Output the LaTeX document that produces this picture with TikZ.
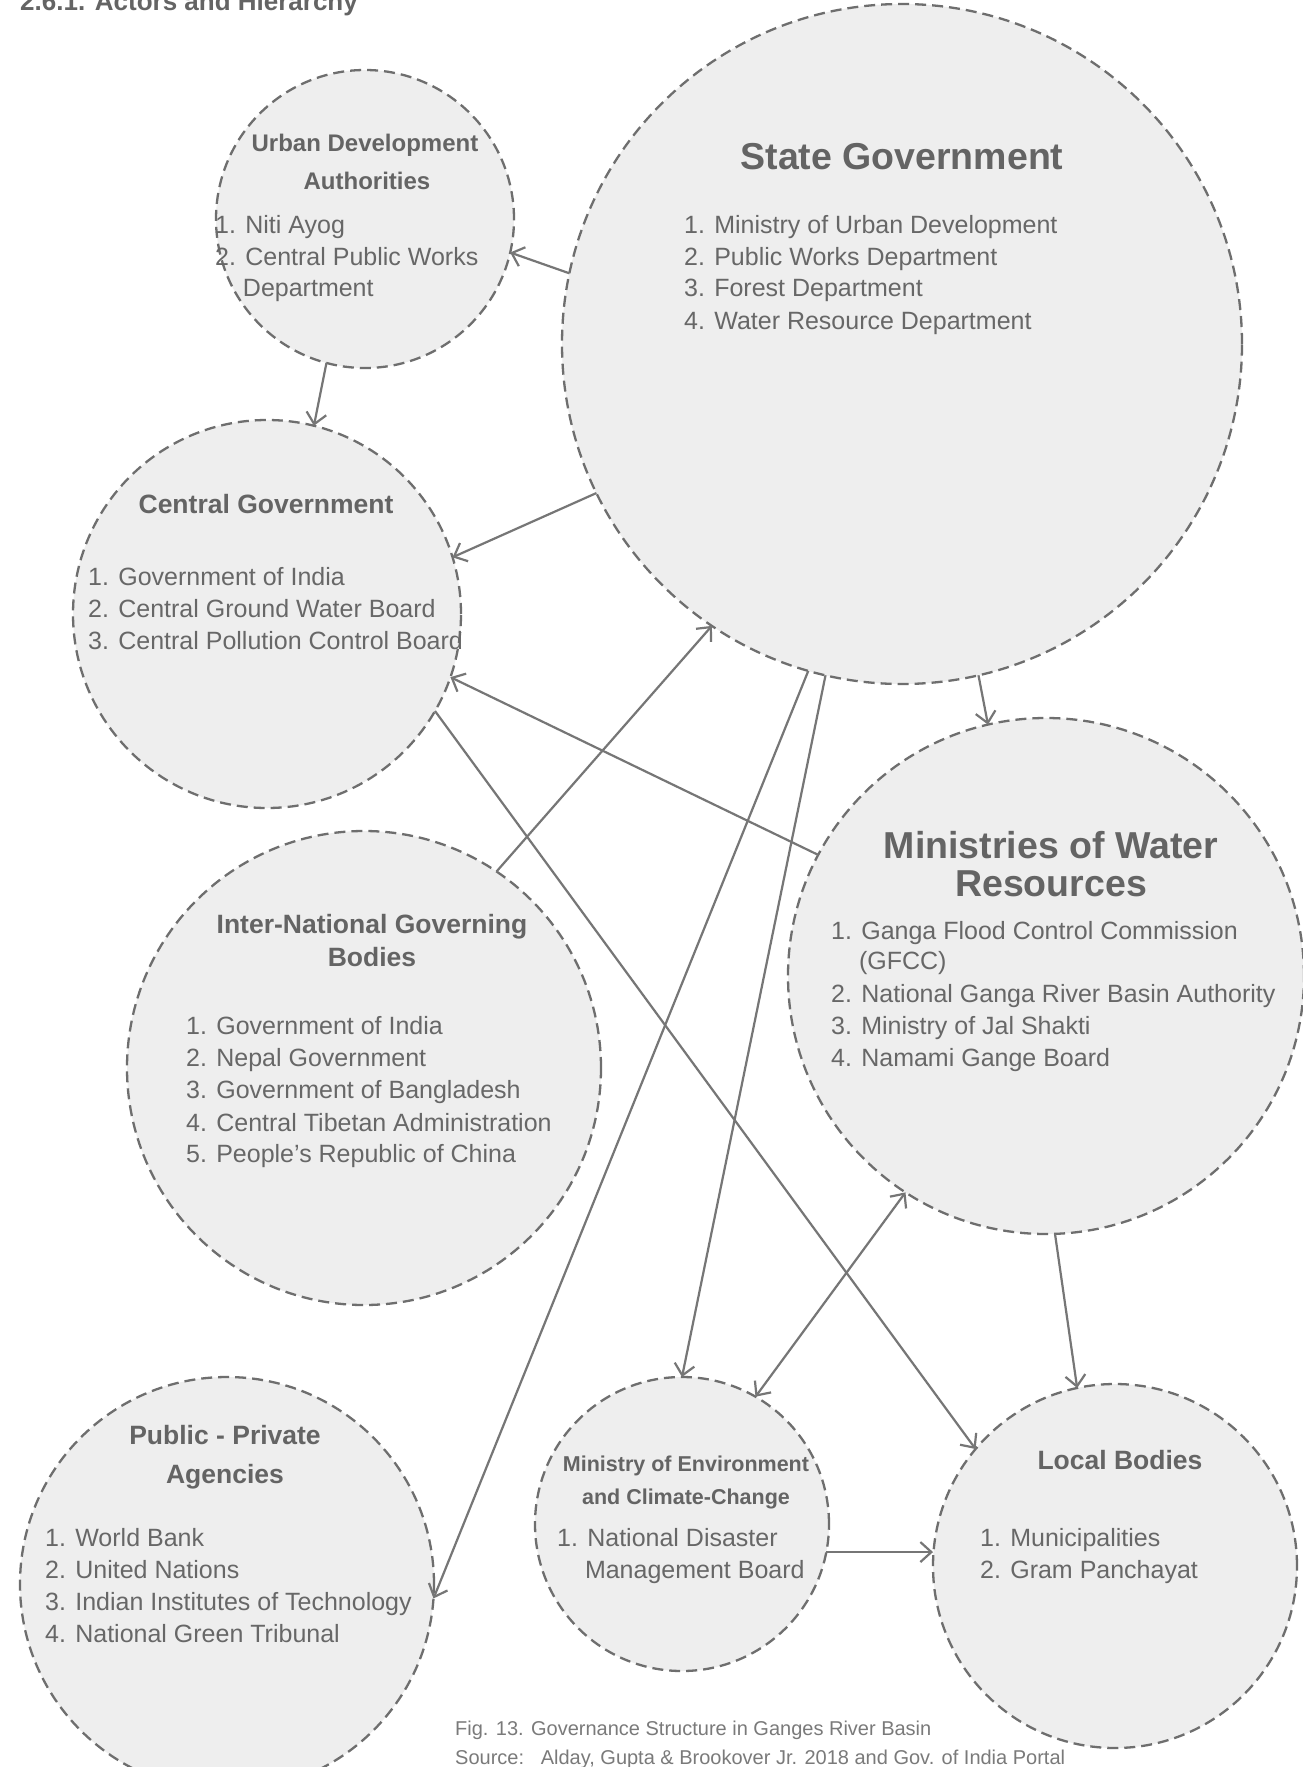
\documentclass[tikz,border=0pt]{standalone}
\usepackage{fontspec}
\setmainfont{Liberation Sans}
\usetikzlibrary{arrows.meta}
\definecolor{cfill}{HTML}{EEEEEE}
\definecolor{cline}{HTML}{6E6E6E}
\definecolor{ctext}{HTML}{676767}
\definecolor{ctitle}{HTML}{646464}
\definecolor{carrow}{HTML}{767676}
\definecolor{ccap}{HTML}{7A7A7A}
\begin{document}
\begin{tikzpicture}[x=1pt,y=-1pt,
  actor/.style={circle, fill=cfill, draw=cline, line width=2.3pt, dash pattern=on 11pt off 6pt, inner sep=0pt, outer sep=0pt, minimum size=#1},
  lst/.style={anchor=base west, inner sep=0pt, text=ctext, font=\fontsize{25}{30}\selectfont},
  ttl/.style={anchor=base, inner sep=0pt, text=ctitle, font=\bfseries\fontsize{#1}{#1}\selectfont},
  captext/.style={anchor=base west, inner sep=0pt, text=ccap, font=\fontsize{20}{24}\selectfont},
  link/.style={draw=carrow, line width=2.2pt, -{Straight Barb[length=11pt,width=20pt]}},
  dlink/.style={draw=carrow, line width=2.2pt, {Straight Barb[length=11pt,width=20pt]}-{Straight Barb[length=11pt,width=20pt]}},
]
\useasboundingbox (0,0) rectangle (1303,1767);
\fill[white] (0,0) rectangle (1303,1767);

% heading (cut by the top edge)
\node[anchor=base west, inner sep=0pt, text=ctitle, font=\bfseries\fontsize{26}{30}\selectfont] (head) at (20,10) {2.6.1. Actors and Hierarchy};

% circles
\node[actor=298pt] (urban) at (365,219) {};
\node[actor=680pt] (state) at (902,344) {};
\node[actor=388pt] (central) at (267,614) {};
\node[actor=516pt] (water) at (1046,976) {};
\node[actor=474pt] (intl) at (364,1068) {};
\node[actor=414pt] (pp) at (227,1584) {};
\node[actor=294pt] (env) at (682,1524) {};
\node[actor=364pt] (local) at (1115,1566) {};

% Urban Development Authorities
\node[ttl=24] (urbanT1) at (365,151.6) {Urban Development};
\node[ttl=24] (urbanT2) at (367,189.6) {Authorities};
\node[lst] (urbanL1) at (215,233) {1. Niti Ayog};
\node[lst] (urbanL2) at (215,265) {2. Central Public Works};
\node[lst] (urbanL3) at (215,296) {\phantom{2.\ }Department};

% State Government
\node[ttl=37.5] (stateT) at (902,169.5) {State Government};
\node[lst] (stateL1) at (684,233) {1. Ministry of Urban Development};
\node[lst] (stateL2) at (684,265) {2. Public Works Department};
\node[lst] (stateL3) at (684,296) {3. Forest Department};
\node[lst] (stateL4) at (684,329) {4. Water Resource Department};

% Central Government
\node[ttl=26.5] (centralT) at (266,513.5) {Central Government};
\node[lst] (centralL1) at (88,585) {1. Government of India};
\node[lst] (centralL2) at (88,617) {2. Central Ground Water Board};
\node[lst] (centralL3) at (88,649) {3. Central Pollution Control Board};

% Ministries of Water Resources
\node[ttl=37.5] (waterT1) at (1051,858.5) {Ministries of Water};
\node[ttl=37.5] (waterT2) at (1051,896.5) {Resources};
\node[lst] (waterL1) at (831,939) {1. Ganga Flood Control Commission};
\node[lst] (waterL2) at (831,969) {\phantom{1.\ }(GFCC)};
\node[lst] (waterL3) at (831,1002) {2. National Ganga River Basin Authority};
\node[lst] (waterL4) at (831,1034) {3. Ministry of Jal Shakti};
\node[lst] (waterL5) at (831,1066) {4. Namami Gange Board};

% Inter-National Governing Bodies
\node[ttl=26.5] (intlT1) at (372,933.5) {Inter-National Governing};
\node[ttl=26.5] (intlT2) at (372,966.5) {Bodies};
\node[lst] (intlL1) at (186,1034) {1. Government of India};
\node[lst] (intlL2) at (186,1066) {2. Nepal Government};
\node[lst] (intlL3) at (186,1098) {3. Government of Bangladesh};
\node[lst] (intlL4) at (186,1131) {4. Central Tibetan Administration};
\node[lst] (intlL5) at (186,1162) {5. People’s Republic of China};

% Public - Private Agencies
\node[ttl=26.5] (ppT1) at (225,1444.5) {Public - Private};
\node[ttl=26.5] (ppT2) at (225,1483.5) {Agencies};
\node[lst] (ppL1) at (45,1546) {1. World Bank};
\node[lst] (ppL2) at (45,1578) {2. United Nations};
\node[lst] (ppL3) at (45,1610) {3. Indian Institutes of Technology};
\node[lst] (ppL4) at (45,1642) {4. National Green Tribunal};

% Ministry of Environment and Climate-Change
\node[ttl=21.5] (envT1) at (686,1471.7) {Ministry of Environment};
\node[ttl=21.5] (envT2) at (686,1504.7) {and Climate-Change};
\node[lst] (envL1) at (557,1546) {1. National Disaster};
\node[lst] (envL2) at (557,1578) {\phantom{1.\ }Management Board};

% Local Bodies
\node[ttl=26.5] (localT) at (1120,1469.5) {Local Bodies};
\node[lst] (localL1) at (980,1546) {1. Municipalities};
\node[lst] (localL2) at (980,1578) {2. Gram Panchayat};

% caption
\node[captext] (cap1) at (455,1735) {Fig. 13. Governance Structure in Ganges River Basin};
\node[captext] (cap2) at (455,1764) {Source:\ \ \ Alday, Gupta \& Brookover Jr. 2018 and Gov. of India Portal};

% connectors
\draw[link] (state.168.6) -- (urban.-13.6);
\draw[link] (urban.-105) -- (central.76);
\draw[link] (state.-154.6) -- (central.17.5);
\draw[link] (intl.56.6) -- (state.-124.1);
\draw[link] (water.152) -- (central.-19.7);
\draw[link] (central.-30.7) -- (local.140.1);
\draw[link] (state.-106) -- (pp.-4.7);
\draw[link] (state.-103.6) -- (env.90);
\draw[link] (state.-77.6) -- (water.103.9);
\draw[dlink] (env.60.9) -- (water.-123.4);
\draw[link] (water.-88.9) -- (local.102.4);
\draw[link] (env.-11.8) -- (env.-11.8 -| local.west);
\end{tikzpicture}
\end{document}
